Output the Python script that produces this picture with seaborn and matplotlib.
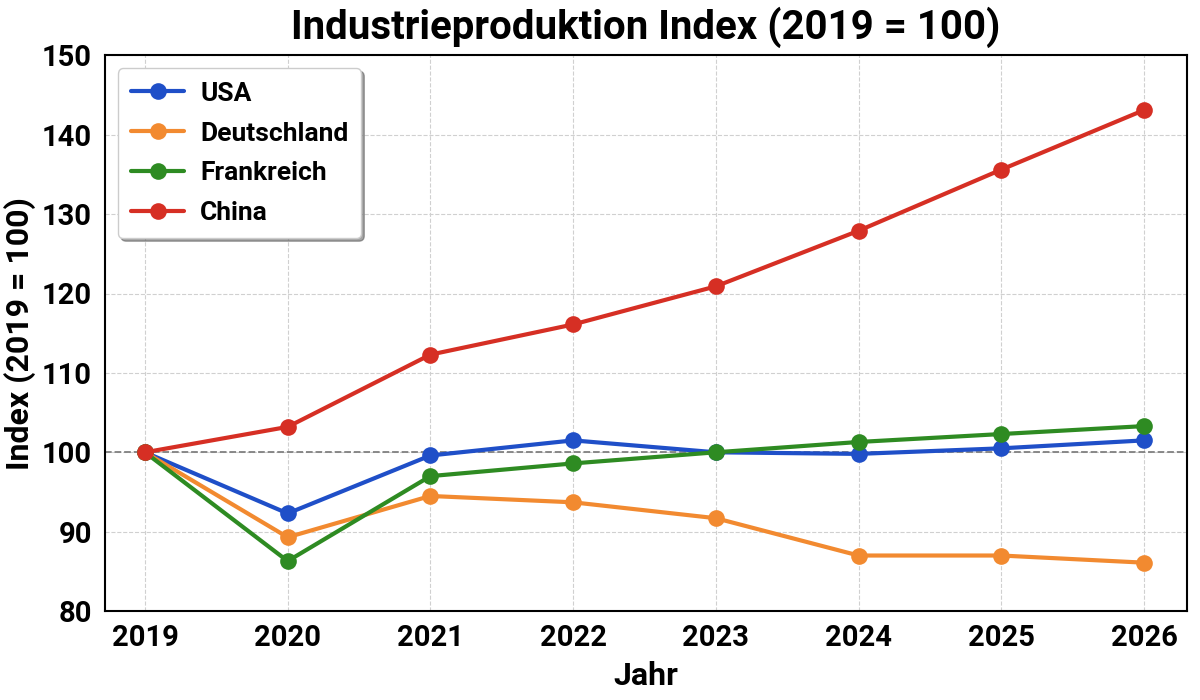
import pandas as pd
import matplotlib
matplotlib.use("Agg")
import matplotlib.pyplot as plt
import seaborn as sns

# Data
years = [2019, 2020, 2021, 2022, 2023, 2024, 2025, 2026]
usa = [100.0, 92.3, 99.6, 101.5, 100.0, 99.8, 100.5, 101.5]
deutschland = [100.0, 89.3, 94.5, 93.7, 91.7, 87.0, 87.0, 86.1]
frankreich = [100.0, 86.3, 97.0, 98.6, 100.0, 101.3, 102.3, 103.3]
china = [100.0, 103.2, 112.3, 116.1, 120.9, 127.9, 135.6, 143.1]

countries = ["USA", "Deutschland", "Frankreich", "China"]
colors = ["#1f4fc8", "#f28a30", "#2e8b22", "#d62f24"]

df = pd.DataFrame({"Jahr": years, "USA": usa, "Deutschland": deutschland,
                   "Frankreich": frankreich, "China": china})
long_df = df.melt(id_vars="Jahr", var_name="Land", value_name="Index")

sns.set_style("whitegrid", {"grid.linestyle": "--", "grid.color": "#d0d0d0",
                            "axes.edgecolor": "black", "text.color": "black",
                            "axes.labelcolor": "black", "xtick.color": "black",
                            "ytick.color": "black"})
plt.rcParams["font.family"] = ["Roboto", "DejaVu Sans"]
plt.rcParams["font.weight"] = "bold"

fig = plt.figure(figsize=(12, 7), dpi=100)
ax = fig.add_axes([0.0875, 0.127, 0.9015, 0.794])

sns.lineplot(data=long_df, x="Jahr", y="Index", hue="Land", hue_order=countries,
             palette=colors, marker="o", markersize=12, markeredgewidth=0,
             linewidth=3, ax=ax)

# reference line at 100
ax.axhline(100, color="gray", linestyle="--", linewidth=1.3, zorder=1)

ax.set_xlim(2018.72, 2026.3)
ax.set_ylim(80, 150)
ax.set_xticks(years)
ax.set_yticks(range(80, 151, 10))
ax.tick_params(axis="both", labelsize=21, length=6, width=1, color="black",
               labelcolor="black")
for lbl in ax.get_xticklabels() + ax.get_yticklabels():
    lbl.set_fontweight("bold")

ax.set_title("Industrieproduktion Index (2019 = 100)", fontsize=29,
             fontweight="bold", pad=12, color="black")
ax.set_xlabel("Jahr", fontsize=23, fontweight="bold", color="black", labelpad=6)
ax.set_ylabel("Index (2019 = 100)", fontsize=23, fontweight="bold", color="black")

for s in ax.spines.values():
    s.set_visible(True)
    s.set_color("black")
    s.set_linewidth(1.5)

leg = ax.legend(loc="upper left", frameon=True, fancybox=True,
                shadow=True, borderpad=0.5, handlelength=2.0, labelspacing=0.6,
                handletextpad=0.6, prop={"weight": "bold", "size": 19})
leg.get_frame().set_edgecolor("#cccccc")
for t in leg.get_texts():
    t.set_color("black")

fig.savefig("out.png", dpi=100)
